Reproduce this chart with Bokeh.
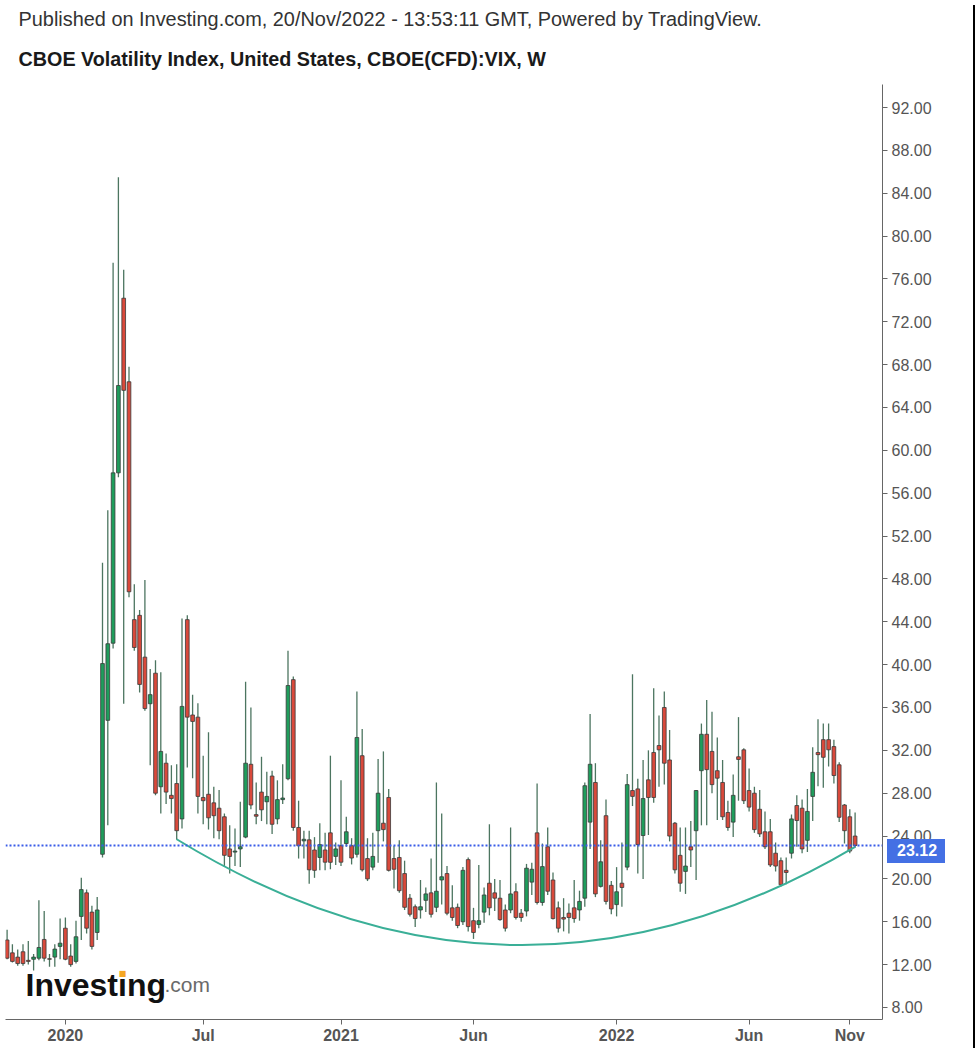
import pandas as pd
from bokeh.plotting import figure
from bokeh.layouts import row
from bokeh.models import ColumnDataSource, FixedTicker, Span, Label, PrintfTickFormatter, Range1d, Title, Div
from bokeh.embed import file_html
from bokeh.resources import INLINE

# ---------------- data (weekly OHLC) ----------------
first_week = "2019-10-21"
opens = [14.3, 13.1, 12.7, 13.2, 12.4, 12.5, 12.6, 14.35, 12.55, 12.7,
         13.7, 15.4, 12.8, 12.3, 16.5, 18.7, 16.9, 15.0, 22.3, 34.8,
         42.0, 57.9, 74.2, 66.4, 44.2, 44.6, 40.7, 36.35, 39.2, 28.6,
         30.8, 27.8, 28.9, 25.6, 44.2, 35.3, 35.1, 27.6, 27.9, 27.1,
         26.6, 25.8, 22.8, 22.5, 22.8, 23.9, 30.7, 26.0, 28.1, 27.2,
         29.6, 25.6, 27.4, 29.35, 38.6, 24.8, 23.55, 23.65, 22.7, 22.0,
         22.7, 24.3, 22.1, 23.1, 23.3, 23.1, 22.3, 31.5, 21.9, 21.1,
         24.5, 25.2, 27.6, 21.9, 22.0, 20.5, 18.2, 17.4, 17.1, 18.0,
         18.7, 17.35, 19.9, 20.5, 17.3, 17.35, 16.0, 21.8, 16.1, 15.75,
         16.9, 19.6, 18.7, 18.2, 17.1, 17.1, 18.8, 16.8, 17.0, 19.7,
         24.3, 17.8, 23.0, 19.9, 17.3, 16.4, 16.8, 17.3, 17.1, 18.2,
         25.3, 29.0, 19.3, 25.9, 19.4, 17.6, 19.6, 21.1, 28.25, 28.4,
         24.05, 29.25, 31.8, 32.45, 36.0, 31.1, 25.2, 22.2, 20.7, 23.0,
         24.5, 30.1, 33.5, 31.9, 30.1, 29.0, 26.2, 25.3, 31.4, 32.05,
         28.25, 28.0, 26.5, 24.4, 24.4, 22.4, 21.7, 20.8, 22.4, 26.85,
         26.6, 23.6, 27.7, 31.8, 33.0, 33.0, 32.35, 30.65, 26.9, 25.8,
         24.0]
highs = [15.25, 13.9, 13.4, 13.9, 14.2, 13.0, 18.0, 17.0, 13.0, 13.9,
         16.3, 16.4, 13.9, 16.1, 20.1, 19.0, 17.5, 18.3, 49.5, 54.4,
         77.5, 85.5, 76.85, 67.8, 47.5, 45.1, 47.9, 39.6, 40.4, 39.3,
         31.7, 30.6, 30.7, 44.3, 44.6, 37.2, 36.4, 31.5, 33.7, 28.6,
         28.3, 26.1, 25.0, 24.7, 27.2, 38.4, 36.0, 29.0, 31.4, 30.0,
         30.1, 29.2, 30.7, 41.3, 38.9, 27.3, 24.5, 24.5, 23.9, 25.2,
         24.3, 31.5, 23.4, 29.2, 25.8, 23.8, 37.5, 34.0, 23.8, 24.3,
         31.2, 31.9, 28.4, 23.1, 23.6, 21.7, 18.6, 17.6, 19.9, 19.2,
         21.9, 29.0, 26.1, 21.2, 19.4, 17.7, 21.1, 22.0, 17.3, 21.3,
         19.2, 25.1, 20.0, 19.9, 17.6, 24.8, 19.6, 17.2, 21.4, 21.5,
         28.9, 23.3, 24.8, 20.6, 17.9, 18.2, 17.7, 19.9, 18.9, 29.0,
         35.4, 30.8, 23.6, 27.4, 19.8, 21.1, 23.4, 29.8, 39.1, 29.35,
         31.1, 32.0, 37.8, 35.25, 37.5, 33.9, 25.3, 24.8, 24.8, 25.4,
         28.3, 34.5, 36.7, 35.6, 33.2, 31.1, 27.3, 29.75, 35.1, 32.2,
         30.3, 28.6, 28.3, 26.3, 25.6, 23.4, 22.0, 22.0, 26.0, 27.8,
         27.4, 28.4, 32.3, 34.9, 34.5, 34.5, 33.0, 30.9, 27.0, 26.5,
         26.2]
lows = [12.5, 12.2, 11.9, 11.9, 12.0, 11.45, 12.4, 12.3, 11.8, 11.8,
        12.5, 12.4, 11.8, 12.1, 14.3, 14.9, 13.4, 14.3, 22.0, 25.0,
        41.5, 57.5, 36.35, 46.3, 41.3, 37.4, 35.7, 30.6, 27.8, 26.1,
        27.0, 26.1, 23.65, 24.7, 30.4, 29.4, 26.1, 25.1, 24.6, 23.8,
        23.7, 21.1, 20.5, 21.2, 21.1, 23.8, 26.5, 25.1, 25.4, 25.1,
        24.2, 25.1, 27.0, 29.2, 24.5, 21.9, 21.9, 19.55, 20.1, 20.8,
        20.8, 20.9, 21.3, 21.2, 23.0, 21.35, 22.0, 20.7, 19.8, 20.8,
        21.5, 23.5, 20.7, 19.1, 18.7, 17.1, 16.5, 15.5, 16.3, 16.9,
        16.4, 16.9, 17.6, 16.6, 16.1, 15.4, 15.7, 15.1, 14.4, 15.4,
        15.9, 16.6, 17.0, 16.1, 15.1, 16.8, 16.2, 16.0, 16.5, 18.5,
        17.6, 17.5, 18.5, 16.2, 15.0, 15.1, 14.9, 15.9, 16.1, 17.4,
        22.8, 18.3, 19.2, 17.6, 16.7, 16.5, 17.4, 20.8, 26.8, 20.5,
        20.0, 24.1, 27.1, 28.6, 28.8, 23.5, 20.5, 18.8, 18.6, 21.1,
        19.9, 25.0, 25.0, 28.0, 25.5, 25.5, 24.5, 23.9, 27.3, 27.0,
        26.3, 24.3, 23.9, 22.8, 21.1, 20.7, 19.3, 19.5, 21.9, 23.0,
        22.4, 22.5, 25.4, 28.65, 28.5, 30.5, 28.9, 25.3, 23.3, 22.4,
        22.9]
closes = [12.6, 12.3, 12.1, 12.1, 12.3, 12.7, 13.6, 12.6, 12.5, 13.45,
          14.0, 12.5, 12.0, 14.6, 19.0, 15.4, 13.7, 17.1, 40.1, 41.95,
          57.9, 66.05, 65.6, 46.8, 41.6, 38.15, 35.9, 37.2, 28.0, 31.9,
          28.1, 27.5, 24.5, 36.1, 35.1, 34.7, 27.7, 27.3, 25.7, 25.9,
          24.5, 22.2, 22.1, 22.6, 23.0, 30.8, 26.9, 25.85, 26.45, 27.7,
          25.1, 27.4, 27.55, 38.05, 24.8, 23.1, 23.7, 20.85, 20.8, 23.2,
          21.56, 21.55, 22.8, 21.56, 24.4, 21.95, 33.2, 20.85, 20.0, 22.1,
          28.0, 24.6, 20.8, 20.9, 18.9, 17.35, 16.7, 16.3, 17.4, 18.6,
          16.7, 18.85, 20.2, 16.8, 16.4, 15.65, 20.8, 15.55, 15.0, 16.1,
          18.5, 17.3, 18.2, 16.2, 15.4, 18.6, 16.4, 16.4, 21.0, 20.9,
          17.8, 21.15, 18.85, 16.3, 15.4, 16.25, 16.4, 16.3, 17.9, 28.7,
          30.7, 18.6, 21.6, 17.9, 17.2, 18.8, 19.2, 28.8, 27.7, 23.2,
          27.5, 27.6, 27.6, 32.05, 30.8, 24.0, 20.85, 19.6, 21.2, 22.7,
          28.25, 33.5, 30.2, 28.8, 29.4, 25.8, 24.8, 27.8, 31.15, 27.3,
          26.7, 24.6, 24.2, 23.0, 21.3, 21.2, 19.45, 20.6, 25.6, 25.45,
          22.8, 26.3, 29.95, 31.6, 31.35, 32.05, 29.65, 25.75, 24.5, 22.6,
          23.12]

tick_dates = ["2020-01-06", "2020-07-06", "2021-01-04", "2021-06-28",
              "2022-01-03", "2022-06-27", "2022-11-07"]
tick_labels = ["2020", "Jul", "2021", "Jun", "2022", "Jun", "Nov"]
price_ticks = list(range(8, 93, 4))
last_price = 23.12

# rounded-bottom arc drawn on the chart (start bar, end bar, control point)
arc_dates = ["2020-06-01", "2022-11-14"]
arc_values = [23.7, 23.0]
arc_control = [96, 4.3]

header_1 = "Published on Investing.com, 20/Nov/2022 - 13:53:11 GMT, Powered by TradingView."
header_2 = "CBOE Volatility Index, United States, CBOE(CFD):VIX, W"

# ---------------- derived ----------------
dates = pd.date_range(first_week, periods=len(opens), freq="7D")
xs = list(range(len(opens)))
date_pos = {d.strftime("%Y-%m-%d"): i for i, d in enumerate(dates)}
tick_pos = [date_pos[d] for d in tick_dates]
arc_pos = [date_pos[d] for d in arc_dates]

UP, DOWN = "#1f9d5c", "#d9493b"
WICK, EDGE = "#4c7560", "#3a3a3a"
TAG = "#4470e4"
FONT = "Liberation Sans"

src = ColumnDataSource(dict(
    x=xs, open=opens, high=highs, low=lows, close=closes,
    top=[max(o, c) for o, c in zip(opens, closes)],
    bottom=[min(o, c) for o, c in zip(opens, closes)],
    fill=[UP if c >= o else DOWN for o, c in zip(opens, closes)],
))

# page-pixel -> data helpers for placing annotations
PX0, PXW, PY92, PYU = 6.6, 5.3, 107.0, 10.714
def xd(px):
    return (px - PX0) / PXW
def yd(py):
    return 92 - (py - PY92) / PYU

p = figure(width=968, height=1048,
           x_range=Range1d(xd(5), xd(882)), y_range=Range1d(yd(1019), yd(84)),
           y_axis_location="right", output_backend="svg", toolbar_location=None,
           min_border_left=5, min_border_right=86, min_border_top=84, min_border_bottom=29)
p.outline_line_color = None
p.grid.visible = False
p.background_fill_color = "white"
p.border_fill_color = "white"

# header lines (closest to the plot first)
p.add_layout(Title(text=header_2, align="left", offset=13, standoff=26, vertical_align="top",
                   text_font=FONT, text_font_size="19.75px", text_font_style="bold",
                   text_color="#1a1a1a"), "above")
p.add_layout(Title(text=header_1, align="left", offset=13, standoff=10,
                   text_font=FONT, text_font_size="19.9px", text_font_style="normal",
                   text_color="#333333"), "above")

p.segment(x0="x", y0="low", x1="x", y1="high", line_color=WICK, line_width=1.3, source=src)
p.vbar(x="x", width=0.7, top="top", bottom="bottom", fill_color="fill",
       line_color=EDGE, line_width=0.8, source=src)

p.quadratic(x0=arc_pos[0], y0=arc_values[0], x1=arc_pos[1], y1=arc_values[1],
            cx=arc_control[0], cy=arc_control[1], line_color="#3aaf97", line_width=2)

p.add_layout(Span(location=last_price, dimension="width", line_color="#3a5ce8",
                  line_dash="2 2", line_width=2))

# axes
ya = p.yaxis[0]
ya.ticker = FixedTicker(ticks=price_ticks)
ya.formatter = PrintfTickFormatter(format="%.2f")
ya.minor_tick_line_color = None
ya.major_tick_in = 0
ya.major_tick_out = 5
ya.major_label_standoff = 4
ya.axis_line_color = "#666666"
ya.major_tick_line_color = "#666666"
ya.major_label_text_color = "#555555"
ya.major_label_text_font = FONT
ya.major_label_text_font_size = "16px"

xa = p.xaxis[0]
xa.ticker = FixedTicker(ticks=tick_pos)
xa.major_label_overrides = {t: l for t, l in zip(tick_pos, tick_labels)}
xa.minor_tick_line_color = None
xa.major_tick_in = 0
xa.major_tick_out = 5
xa.major_label_standoff = 2
xa.axis_line_color = "#666666"
xa.major_tick_line_color = "#666666"
xa.major_label_text_color = "#555555"
xa.major_label_text_font = FONT
xa.major_label_text_font_style = "bold"
xa.major_label_text_font_size = "16px"

# watermark logo
p.add_layout(Label(x=xd(25), y=yd(984), text="Investing", text_align="left",
                   text_baseline="alphabetic", text_font=FONT, text_font_size="32px",
                   text_font_style="bold", text_color="#111111"))
p.add_layout(Label(x=xd(164), y=yd(984), text=".com", text_align="left",
                   text_baseline="alphabetic", text_font=FONT, text_font_size="21px",
                   text_color="#6a6a6a"))
# orange dot of the logo's "i"
p.add_layout(Label(x=xd(122), y=yd(973), text="\u25A0", text_align="center",
                   text_baseline="middle", text_font="DejaVu Sans", text_font_size="8px",
                   text_color="#f5a623"))

# last-price tag sitting on the price scale
tag = Div(text="%.2f" % last_price, width=58, height=24,
          styles={"position": "absolute", "left": "882px", "top": "834px",
                  "background-color": TAG, "color": "#ffffff",
                  "font-family": FONT, "font-size": "16px", "font-weight": "bold",
                  "line-height": "24px", "padding-left": "10px",
                  "box-sizing": "border-box", "z-index": "10"})

# dark strip at the right edge of the screenshot
strip = Div(text="", width=7, height=1048, styles={"background-color": "#000000"})

page = row(p, strip, tag, spacing=0)
open("out.html", "w").write(file_html(page, INLINE))
